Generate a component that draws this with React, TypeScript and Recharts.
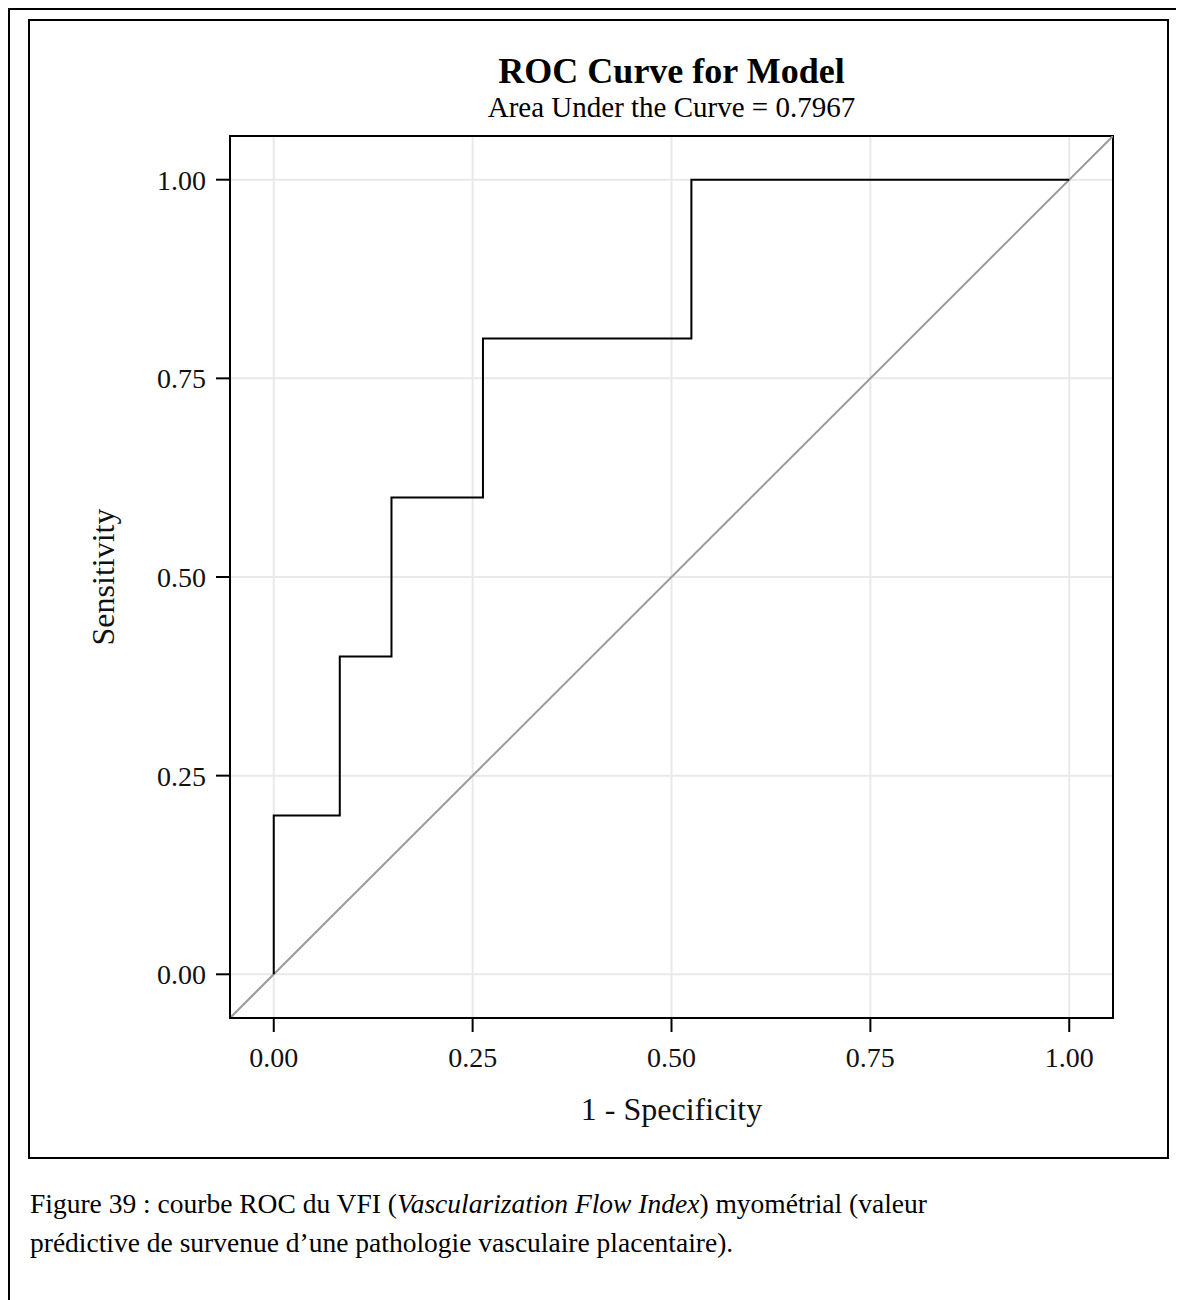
import { LineChart, Line, XAxis, YAxis, CartesianGrid, ReferenceLine, ReferenceArea, Label } from "recharts";

// ROC points (1 - specificity, sensitivity)
const fpr = [0, 0, 0.083, 0.083, 0.148, 0.148, 0.263, 0.263, 0.525, 0.525, 1];
const sensitivity = [0, 0.2, 0.2, 0.4, 0.4, 0.6, 0.6, 0.8, 0.8, 1, 1];
const tickValues = [0, 0.25, 0.5, 0.75, 1];

const AXIS_MIN = -0.055;
const AXIS_MAX = 1.055;

const rocData = fpr.map((x, i) => ({ x, y: sensitivity[i] }));

const serif = '"Liberation Serif", "Times New Roman", serif';

export default function App() {
  return (
    <div
      style={{
        position: "relative",
        width: 1174,
        height: 1290,
        borderLeft: "2px solid #000",
        borderTop: "2px solid #000",
        background: "#fff",
        fontFamily: serif,
        color: "#000",
        overflow: "hidden"
      }}
    >
      {/* inner figure frame */}
      <div
        style={{
          position: "absolute",
          left: 18,
          top: 9,
          width: 1141,
          height: 1140,
          boxSizing: "border-box",
          border: "2px solid #000"
        }}
      />

      <div style={{ position: "absolute", left: 220, top: 43, width: 883, textAlign: "center", fontSize: 36, fontWeight: "bold", lineHeight: "36px", whiteSpace: "nowrap" }}>
        ROC Curve for Model
      </div>
      <div style={{ position: "absolute", left: 220, top: 83, width: 883, textAlign: "center", fontSize: 29, lineHeight: "29px", whiteSpace: "nowrap" }}>
        Area Under the Curve = 0.7967
      </div>

      <div style={{ position: "absolute", left: -10, top: -10 }}>
        <LineChart width={1184} height={1170} data={rocData} margin={{ top: 136, right: 71, left: 100, bottom: 42 }}>
          <CartesianGrid stroke="#e9e9e9" strokeWidth={2} />
          <XAxis
            type="number"
            dataKey="x"
            domain={[AXIS_MIN, AXIS_MAX]}
            ticks={tickValues}
            tickFormatter={(v: number) => v.toFixed(2)}
            allowDataOverflow
            height={110}
            tickSize={14}
            tickMargin={15}
            axisLine={{ stroke: "#000", strokeWidth: 2 }}
            tickLine={{ stroke: "#000", strokeWidth: 2 }}
            tick={{ fill: "#111", fontSize: 28, fontFamily: serif }}
          >
            <Label value="1 - Specificity" position="insideBottom" offset={8} style={{ fill: "#111", fontSize: 32, fontFamily: serif }} />
          </XAxis>
          <YAxis
            type="number"
            dataKey="y"
            domain={[AXIS_MIN, AXIS_MAX]}
            ticks={tickValues}
            tickFormatter={(v: number) => v.toFixed(2)}
            allowDataOverflow
            width={130}
            tickSize={14}
            tickMargin={10}
            axisLine={{ stroke: "#000", strokeWidth: 2 }}
            tickLine={{ stroke: "#000", strokeWidth: 2 }}
            tick={{ fill: "#111", fontSize: 28, fontFamily: serif }}
          >
            <Label value="Sensitivity" angle={-90} position="insideLeft" offset={3} style={{ fill: "#111", fontSize: 32, fontFamily: serif, textAnchor: "middle" }} />
          </YAxis>
          <ReferenceLine
            segment={[{ x: AXIS_MIN, y: AXIS_MIN }, { x: AXIS_MAX, y: AXIS_MAX }]}
            stroke="#9a9a9a"
            strokeWidth={2}
            ifOverflow="hidden"
          />
          <Line
            type="linear"
            dataKey="y"
            stroke="#000"
            strokeWidth={2}
            dot={false}
            activeDot={false}
            isAnimationActive={false}
          />
          <ReferenceArea
            x1={AXIS_MIN}
            x2={AXIS_MAX}
            y1={AXIS_MIN}
            y2={AXIS_MAX}
            fill="none"
            stroke="#000"
            strokeWidth={2}
            ifOverflow="visible"
          />
        </LineChart>
      </div>

      <div style={{ position: "absolute", left: 20, top: 1174, width: 1140, fontSize: 27.5, lineHeight: "39px", whiteSpace: "nowrap" }}>
        Figure 39 : courbe ROC du VFI (<i>Vascularization Flow Index</i>) myométrial (valeur
        <br />
        prédictive de survenue d’une pathologie vasculaire placentaire).
      </div>
    </div>
  );
}
